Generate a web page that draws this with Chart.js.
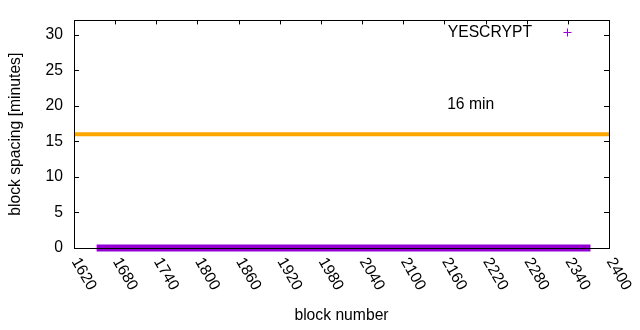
<!DOCTYPE html>
<html><head><meta charset="utf-8">
<script src="https://cdn.jsdelivr.net/npm/chart.js@4/dist/chart.umd.min.js"></script>
<style>html,body{margin:0;padding:0;background:#fff}#wrap{width:640px;height:330px}</style>
</head><body><div id="wrap"><canvas id="c" width="640" height="330"></canvas></div>
<script>
// ---- data ----
const xTickValues = [1620,1680,1740,1800,1860,1920,1980,2040,2100,2160,2220,2280,2340,2400];
const yTickValues = [0,5,10,15,20,25,30];
const seriesName = 'YESCRYPT';
const yescryptBlocks = [1653, 2373];
const yescryptSpacing = [0, 0];
const targetBlocks = [1620, 2400];
const targetSpacing = [16, 16];
const targetLabel = '16 min';
const targetLabelPos = [2164, 20];
const xTitle = 'block number';
const yTitle = 'block spacing [minutes]';

const FONT = '"Liberation Sans", Arial, sans-serif';
const FS = 15.7;
const PURPLE = '#9400D3';
const ORANGE = '#FFA500';

const gnuplotDecor = {
  id: 'gnuplotDecor',
  afterDatasetsDraw(chart) {
    const ctx = chart.ctx;
    const {left, right, top, bottom} = chart.chartArea;
    const xs = chart.scales.x, ys = chart.scales.y;
    ctx.save();
    ctx.strokeStyle = '#000';
    ctx.lineWidth = 1;
    // border
    ctx.strokeRect(Math.round(left) + 0.5, Math.round(top) + 0.5,
                   Math.round(right) - Math.round(left), Math.round(bottom) - Math.round(top));
    // inward ticks
    const TL = 5;
    ctx.beginPath();
    yTickValues.forEach(v => {
      if (v === 0) return;
      const py = Math.round(ys.getPixelForValue(v)) + 0.5;
      ctx.moveTo(left, py); ctx.lineTo(left + TL, py);
      ctx.moveTo(right, py); ctx.lineTo(right - TL, py);
    });
    xTickValues.forEach(v => {
      const px = Math.round(xs.getPixelForValue(v)) + 0.5;
      ctx.moveTo(px, top); ctx.lineTo(px, top + TL - 1);
    });
    ctx.stroke();
    // rotated x tick labels (gnuplot "rotate by -60")
    ctx.fillStyle = '#000';
    ctx.font = FS + 'px ' + FONT;
    ctx.textAlign = 'left';
    ctx.textBaseline = 'middle';
    xTickValues.forEach(v => {
      const px = xs.getPixelForValue(v);
      ctx.save();
      ctx.translate(px + 1, bottom + 11);
      ctx.rotate(Math.PI / 3);
      ctx.fillText(String(v), 0, 0);
      ctx.restore();
    });
    // "16 min" label
    ctx.fillText(targetLabel, xs.getPixelForValue(targetLabelPos[0]), ys.getPixelForValue(targetLabelPos[1]) - 1);
    // key
    const ky = 32.5;
    ctx.textAlign = 'right';
    ctx.fillText(chart.data.datasets[0].label, 532, ky);
    ctx.strokeStyle = PURPLE;
    ctx.beginPath();
    ctx.moveTo(563.5, 32.5); ctx.lineTo(571.5, 32.5);
    ctx.moveTo(567.5, 28.5); ctx.lineTo(567.5, 36.5);
    ctx.stroke();
    ctx.restore();
  }
};

new Chart(document.getElementById('c'), {
  type: 'line',
  data: {
    datasets: [
      {
        label: seriesName,
        data: yescryptBlocks.map((b, i) => ({x: b, y: yescryptSpacing[i]})),
        borderColor: PURPLE,
        backgroundColor: PURPLE,
        borderWidth: 7,
        pointRadius: 0,
        borderCapStyle: 'butt',
        clip: false,
        order: 1
      },
      {
        label: targetLabel,
        data: targetBlocks.map((b, i) => ({x: b, y: targetSpacing[i]})),
        borderColor: ORANGE,
        backgroundColor: ORANGE,
        borderWidth: 4,
        pointRadius: 0,
        borderCapStyle: 'butt',
        clip: false,
        order: 2
      }
    ]
  },
  options: {
    responsive: false,
    animation: false,
    devicePixelRatio: 1,
    layout: {padding: {top: 19, right: 31, left: 0, bottom: 0}},
    plugins: {legend: {display: false}, tooltip: {enabled: false}, title: {display: false}},
    scales: {
      x: {
        type: 'linear',
        min: 1620, max: 2400,
        grid: {display: false, drawTicks: false},
        border: {display: false},
        ticks: {display: false},
        afterBuildTicks: s => { s.ticks = xTickValues.map(v => ({value: v})); },
        afterFit: s => { s.height = 82; },
        title: {display: true, text: xTitle, color: '#000', font: {family: FONT, size: FS}, padding: {top: 0, bottom: 5}}
      },
      y: {
        type: 'linear',
        min: 0, max: 32,
        grid: {display: false, drawTicks: false},
        border: {display: false},
        afterBuildTicks: s => { s.ticks = yTickValues.map(v => ({value: v})); },
        ticks: {color: '#000', font: {family: FONT, size: FS}, padding: 11},
        afterFit: s => { s.width = 74; },
        title: {display: true, text: yTitle, color: '#000', font: {family: FONT, size: FS}, padding: {top: 6, bottom: 0}}
      }
    }
  },
  plugins: [gnuplotDecor]
});
</script>
</body></html>
